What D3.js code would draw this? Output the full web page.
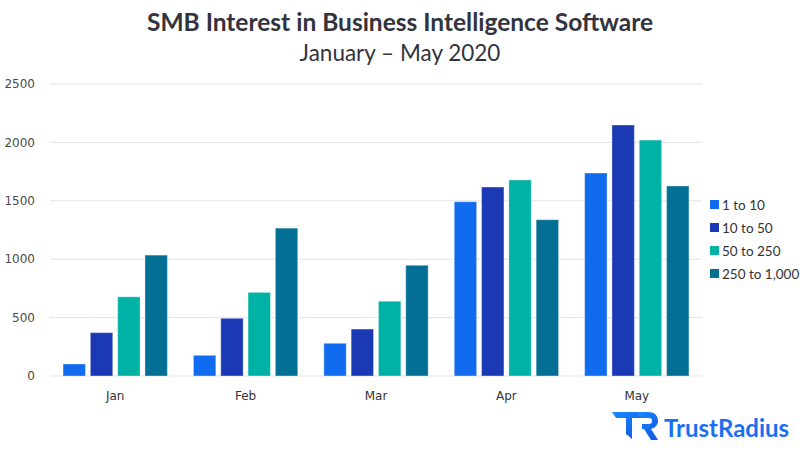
<!DOCTYPE html>
<html>
<head>
<meta charset="utf-8">
<script src="https://cdn.jsdelivr.net/npm/d3@7"></script>
<style>
html,body{margin:0;padding:0;background:#fff;}
svg{display:block;}
</style>
</head>
<body>
<svg id="chart" width="800" height="450"></svg>
<script>
const months = ["Jan", "Feb", "Mar", "Apr", "May"];
const seriesNames = ["1 to 10", "10 to 50", "50 to 250", "250 to 1,000"];
const s1to10 = [103, 177, 280, 1492, 1738];
const s10to50 = [371, 494, 402, 1618, 2149];
const s50to250 = [678, 716, 640, 1678, 2020];
const s250to1000 = [1035, 1266, 948, 1338, 1627];
const yTicks = [0, 500, 1000, 1500, 2000, 2500];
const colors = ["#116bef", "#1c39b5", "#00b2a5", "#036f95"];

const seriesValues = [s1to10, s10to50, s50to250, s250to1000];

(function () {
const svg = d3.select("#chart");
const pLeft = 50, pRight = 702, pTop = 84, pBottom = 376;

const x0 = d3.scaleBand().domain(months).range([pLeft, pRight]).paddingInner(0.2).paddingOuter(0.1);
const x1 = d3.scaleBand().domain(seriesNames).range([0, x0.bandwidth()]).paddingInner(0.18);
const y = d3.scaleLinear().domain([0, 2500]).range([pBottom, pTop]);

// gridlines
svg.append("g").selectAll("line").data(yTicks).join("line")
  .attr("x1", pLeft).attr("x2", pRight)
  .attr("y1", d => y(d)).attr("y2", d => y(d))
  .attr("stroke", "#e3e3e6").attr("stroke-width", 1);

// y tick labels
svg.append("g").selectAll("text").data(yTicks).join("text")
  .attr("x", 35).attr("y", d => y(d)).attr("dy", "0.35em")
  .attr("text-anchor", "end")
  .attr("font-family", "DejaVu Sans, sans-serif").attr("font-size", 12)
  .attr("fill", "#4a4a4a").text(d => d);

// bars
const groups = svg.append("g").selectAll("g").data(months).join("g")
  .attr("transform", d => `translate(${x0(d)},0)`);
groups.selectAll("rect").data((m, i) => seriesNames.map((s, j) => ({s, j, v: seriesValues[j][i]})))
  .join("rect")
  .attr("x", d => x1(d.s))
  .attr("width", x1.bandwidth())
  .attr("y", d => y(d.v))
  .attr("height", d => y(0) - y(d.v))
  .attr("fill", d => colors[d.j])
  .attr("stroke", "rgba(255,255,255,0.35)").attr("stroke-width", 1);

// x labels
svg.append("g").selectAll("text").data(months).join("text")
  .attr("x", d => x0(d) + x0.bandwidth() / 2).attr("y", 400)
  .attr("text-anchor", "middle")
  .attr("font-family", "DejaVu Sans, sans-serif").attr("font-size", 12)
  .attr("fill", "#333").text(d => d);

// title
svg.append("text").attr("x", 400).attr("y", 31).attr("text-anchor", "middle")
  .attr("font-family", "Lato, sans-serif").attr("font-weight", 700).attr("font-size", 24.5)
  .attr("fill", "#33333d").text("SMB Interest in Business Intelligence Software");
svg.append("text").attr("x", 400).attr("y", 61).attr("text-anchor", "middle")
  .attr("font-family", "Lato, sans-serif").attr("font-weight", 400).attr("font-size", 22.5)
  .attr("fill", "#33333d").text("January – May 2020");

// legend
const leg = svg.append("g").attr("transform", "translate(710,205)");
const li = leg.selectAll("g").data(seriesNames).join("g")
  .attr("transform", (d, i) => `translate(0,${i * 23})`);
li.append("rect").attr("x", 0).attr("y", -5).attr("width", 9).attr("height", 9)
  .attr("fill", (d, i) => colors[i]);
li.append("text").attr("x", 12).attr("y", 0).attr("dy", "0.35em")
  .attr("font-family", "Lato, sans-serif").attr("font-size", 13.5)
  .attr("fill", "#333").text(d => d);

// logo
const defs = svg.append("defs");
const grad = defs.append("linearGradient").attr("id", "lg").attr("x1", "0").attr("y1", "0").attr("x2", "1").attr("y2", "1");
grad.append("stop").attr("offset", "0").attr("stop-color", "#1a8cff");
grad.append("stop").attr("offset", "1").attr("stop-color", "#1257e0");
const logo = svg.append("g").attr("transform", "translate(612,412)");
logo.append("path").attr("d", "M0,0 L26,0 L29,6 L20,6 L20,27 L14,22 L14,6 L4,6 Z").attr("fill", "url(#lg)");
logo.append("path").attr("d", "M23,0 L36,0 C44,0 46,5 46,9 C46,13 43,16 39,17 L46,28 L39,28 L32,17 L30,17 L30,12 L37,12 C39,12 40,11 40,9 C40,7 39,6 37,6 L29,6 Z").attr("fill", "url(#lg)");
logo.append("text").attr("x", 52).attr("y", 25)
  .attr("font-family", "Lato, sans-serif").attr("font-weight", 700).attr("font-size", 24)
  .attr("fill", "#1a6ff0").text("TrustRadius");
})();
</script>
</body>
</html>
